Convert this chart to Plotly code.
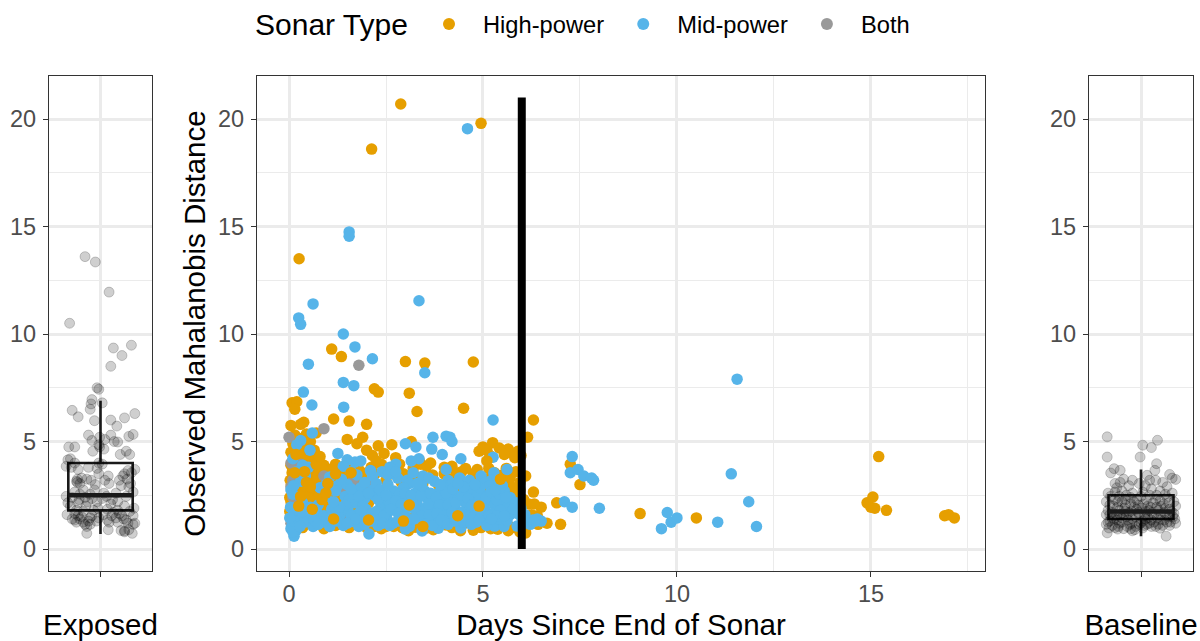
import plotly.graph_objects as go
from plotly.subplots import make_subplots

# (days since end of sonar, observed distance)
high_power = [
    (2.88, 20.7), (4.95, 19.8), (2.13, 18.6), (0.26, 13.5), (1.1, 9.3), (1.35, 8.95), (3.0, 8.72), (3.5, 8.65),
    (4.75, 8.7), (2.2, 7.45), (2.3, 7.3), (3.1, 7.25), (3.3, 6.4), (4.5, 6.55), (1.55, 5.95), (1.15, 6.05),
    (2.0, 5.8), (0.08, 6.8), (0.2, 6.85), (0.15, 6.5), (0.3, 5.8), (0.38, 5.9), (0.05, 5.75), (6.3, 6.0),
    (6.15, 5.2), (6.3, 2.65), (6.5, 1.95), (7.25, 3.95), (6.9, 2.15), (7.0, 1.15), (6.65, 1.2), (6.4, 1.55),
    (7.5, 3.0), (9.05, 1.65), (10.5, 1.45), (14.9, 2.15), (15.05, 2.42), (15.1, 1.9), (15.0, 1.95), (15.4, 1.8),
    (15.2, 4.3), (16.9, 1.55), (17.0, 1.6), (17.15, 1.45), (1.75, 4.9), (1.9, 5.2), (1.5, 5.1), (0.7, 5.4),
    (0.45, 5.35), (0.15, 5.3), (0.25, 5.15), (0.55, 5.0), (0.1, 4.9), (0.35, 4.85), (0.2, 4.65), (0.05, 4.5),
    (0.3, 4.45), (0.15, 4.25), (0.42, 4.15), (0.6, 4.2), (0.75, 4.05), (0.05, 3.9), (0.25, 3.95), (0.5, 3.85),
    (0.9, 3.9), (1.2, 3.95), (0.1, 3.7), (0.35, 3.65), (0.62, 3.6), (0.85, 3.55), (1.05, 3.7), (1.35, 3.75),
    (1.58, 3.8), (0.2, 3.4), (0.5, 3.35), (0.72, 3.3), (1.1, 3.4), (1.4, 3.45), (0.03, 3.2), (0.3, 3.15),
    (0.6, 3.05), (0.95, 3.1), (1.25, 3.15), (1.55, 3.2), (1.8, 3.1), (2.0, 4.6), (2.15, 4.35), (2.25, 4.1),
    (2.45, 4.45), (2.3, 4.8), (2.65, 4.85), (2.38, 3.95), (2.85, 3.95), (3.15, 5.0), (3.35, 4.15), (3.4, 3.95),
    (3.55, 3.85), (3.65, 4.0), (3.2, 3.75), (2.75, 4.25), (4.0, 3.8), (4.2, 3.85), (4.45, 3.6), (4.75, 3.5),
    (4.9, 4.55), (5.0, 4.75), (5.1, 4.6), (5.25, 4.95), (5.42, 4.7), (5.65, 4.65), (5.68, 4.5), (5.9, 4.55),
    (5.15, 3.75), (5.5, 3.45), (5.7, 3.3), (5.0, 3.25), (4.6, 3.1), (4.2, 3.25), (3.85, 3.0), (3.45, 3.05),
    (2.9, 3.1), (2.5, 3.2), (2.2, 2.9), (1.95, 2.75), (1.6, 2.65), (1.3, 2.55), (1.0, 2.7), (0.7, 2.6),
    (0.4, 2.75), (0.1, 2.65), (0.02, 2.4), (0.3, 2.3), (0.65, 2.2), (0.92, 2.1), (1.2, 2.2), (1.5, 2.05),
    (1.78, 1.9), (2.05, 2.15), (2.4, 2.3), (2.7, 2.5), (3.0, 2.2), (3.3, 2.45), (3.65, 2.3), (4.05, 2.45),
    (4.4, 2.6), (4.8, 2.55), (5.15, 2.8), (5.5, 2.65), (5.8, 2.45), (6.05, 2.3), (5.95, 3.1), (6.1, 3.4),
    (5.85, 1.85), (5.6, 1.55), (5.3, 1.5), (4.95, 1.3), (4.6, 1.55), (4.25, 1.25), (3.9, 1.45), (3.55, 1.2),
    (3.2, 1.45), (2.85, 1.15), (2.55, 1.3), (2.2, 1.05), (1.9, 1.2), (1.55, 1.0), (1.2, 1.1), (0.9, 0.95),
    (0.6, 1.2), (0.35, 1.0), (0.12, 1.35), (0.02, 1.75), (0.25, 1.7), (0.55, 1.65), (0.8, 1.5), (1.1, 1.65),
    (1.45, 1.5), (1.8, 1.35), (2.1, 1.6), (2.5, 1.05), (2.92, 1.0), (3.25, 1.02), (3.55, 0.98), (4.05, 1.12),
    (4.5, 1.18), (4.75, 0.88), (5.5, 1.12), (5.75, 1.0), (5.95, 0.8), (6.18, 2.1), (6.05, 1.05), (6.42, 1.15),
    (0.12, 4.05), (0.28, 4.2), (0.4, 4.55), (0.5, 4.4), (0.65, 4.6), (0.08, 3.55), (0.18, 3.15), (0.33, 3.45),
    (0.47, 3.1), (0.58, 3.75), (0.7, 3.5), (0.8, 3.2), (0.88, 3.7), (0.98, 3.45), (1.08, 3.15), (1.15, 3.6),
    (1.22, 3.3), (1.3, 2.9), (1.4, 3.15), (1.48, 3.55), (1.6, 3.0), (1.7, 3.4), (1.82, 3.65), (1.92, 3.3),
    (2.02, 3.55), (2.12, 3.8), (2.22, 3.5), (0.06, 3.0), (0.15, 2.75), (0.24, 2.95), (0.35, 2.6), (0.45, 2.85),
    (0.55, 2.5), (0.65, 2.85), (0.75, 2.4), (0.85, 2.75), (1.0, 2.35), (1.12, 2.6), (1.25, 2.4), (1.38, 2.7),
    (0.05, 2.2), (0.14, 2.4), (0.22, 2.15), (0.42, 2.05), (0.52, 2.3), (0.72, 1.95), (0.82, 2.15), (1.05, 1.95),
    (1.18, 1.85), (1.32, 2.1), (1.58, 1.75), (0.08, 1.55), (0.16, 1.85), (0.32, 1.85), (0.44, 1.6), (0.62, 1.55),
    (0.92, 1.75), (1.02, 1.25), (1.35, 1.2), (1.7, 1.15), (2.0, 1.0), (2.38, 0.95), (2.7, 1.05), (3.08, 0.85),
    (3.4, 0.95), (3.72, 0.9), (4.2, 1.0), (4.42, 0.85), (4.95, 1.0), (5.2, 0.95), (5.38, 0.92), (5.65, 0.85),
    (2.6, 3.6), (2.95, 3.5), (3.3, 3.35), (3.7, 3.45), (4.0, 3.5), (4.3, 3.55), (4.55, 3.75), (4.85, 3.7),
    (5.3, 3.55), (5.6, 3.75), (5.85, 3.6), (5.95, 2.75), (5.72, 2.9), (5.48, 3.1), (5.2, 3.35), (4.9, 3.05),
    (6.02, 1.55), (6.1, 0.75), (6.25, 1.6), (6.32, 2.1), (5.98, 4.35), (5.82, 4.25), (5.55, 4.4), (5.18, 4.35),
]

both_types = [
    (1.8, 8.55), (0.9, 5.6), (0.0, 5.2), (0.05, 4.0), (0.1, 3.2), (0.9, 3.4), (0.1, 2.4), (0.05, 1.2),
    (1.0, 1.3), (1.75, 2.85), (2.0, 3.0), (0.15, 1.75), (0.22, 1.8), (0.3, 3.95), (1.55, 1.35), (0.05, 2.9),
    (1.25, 2.75), (1.4, 2.9), (1.65, 3.15),
]

mid_power = [
    (4.6, 19.55), (1.55, 14.75), (1.55, 14.55), (0.25, 10.75), (0.3, 10.45), (0.62, 11.4), (3.35, 11.55), (1.4, 10.0),
    (1.7, 9.4), (2.15, 8.85), (0.5, 8.6), (3.5, 8.2), (1.4, 7.75), (1.67, 7.6), (0.37, 7.3), (0.59, 6.7),
    (1.41, 6.6), (5.26, 6.0), (11.55, 7.9), (11.4, 3.5), (11.85, 2.2), (12.05, 1.05), (11.05, 1.25), (9.6, 0.95),
    (9.75, 1.7), (9.85, 1.25), (10.0, 1.45), (8.0, 1.9), (7.3, 4.3), (7.25, 3.55), (7.45, 3.7), (7.6, 3.4),
    (7.8, 3.3), (7.85, 3.2), (7.1, 2.2), (7.3, 1.95), (6.29, 1.35), (6.15, 1.3), (6.05, 1.2), (6.4, 1.4),
    (6.5, 1.3), (3.71, 5.2), (4.05, 5.25), (4.15, 5.2), (4.2, 5.0), (3.0, 4.9), (3.27, 4.75), (3.68, 4.65),
    (0.54, 4.6), (1.26, 4.45), (0.1, 4.2), (3.35, 4.2), (4.43, 4.2), (5.26, 4.27), (5.62, 3.7), (5.28, 3.55),
    (0.6, 5.4), (0.3, 5.05), (0.2, 4.85), (0.35, 3.9), (0.5, 3.8), (1.5, 4.15), (1.7, 4.05), (1.85, 4.1),
    (2.75, 3.95), (2.6, 3.8), (2.4, 3.6), (2.15, 3.4), (2.55, 3.45), (2.8, 3.3), (3.05, 3.2), (3.1, 3.05),
    (3.45, 3.4), (3.6, 3.3), (3.75, 3.15), (4.1, 3.2), (4.2, 3.05), (4.4, 3.3), (4.65, 3.2), (4.95, 3.4),
    (5.05, 3.1), (5.22, 3.2), (5.4, 3.0), (5.18, 2.95), (1.05, 3.35), (1.25, 2.95), (1.5, 3.0), (1.85, 2.85),
    (2.15, 2.75), (2.4, 2.55), (2.7, 2.7), (2.95, 2.85), (3.25, 2.6), (3.5, 2.7), (3.85, 2.6), (4.0, 2.85),
    (4.25, 2.5), (4.55, 2.55), (4.75, 2.75), (5.0, 2.5), (5.3, 2.45), (5.55, 2.7), (5.7, 2.4), (5.85, 2.15),
    (0.05, 2.75), (0.1, 2.55), (0.35, 2.15), (0.55, 1.95), (0.75, 2.05), (0.95, 2.45), (1.2, 2.7), (1.45, 2.45),
    (1.7, 2.15), (1.95, 2.35), (2.2, 2.5), (2.45, 2.15), (2.65, 2.35), (2.85, 2.55), (3.05, 2.35), (3.3, 2.2),
    (3.55, 2.4), (3.75, 2.15), (3.95, 2.35), (4.15, 2.2), (4.35, 2.35), (4.55, 2.15), (4.8, 2.3), (4.98, 2.1),
    (5.12, 2.25), (5.3, 2.05), (5.5, 2.2), (5.65, 1.95), (5.9, 1.65), (0.04, 1.95), (0.12, 1.65), (0.28, 1.55),
    (0.5, 1.45), (0.72, 1.7), (0.9, 1.55), (1.1, 1.85), (1.32, 1.6), (1.52, 1.8), (1.75, 1.6), (1.98, 1.85),
    (2.15, 1.65), (2.35, 1.9), (2.55, 1.7), (2.75, 1.95), (2.95, 1.75), (3.15, 1.95), (3.35, 1.7), (3.5, 1.9),
    (3.7, 1.7), (3.9, 1.9), (4.08, 1.75), (4.28, 1.95), (4.45, 1.7), (4.68, 1.9), (4.88, 1.7), (5.05, 1.85),
    (5.25, 1.65), (5.45, 1.8), (5.7, 1.6), (0.13, 0.6), (0.18, 0.85), (0.08, 1.1), (0.4, 1.25), (0.62, 1.05),
    (0.85, 1.25), (1.05, 1.05), (1.25, 1.3), (1.4, 1.1), (1.62, 1.28), (1.8, 1.05), (2.06, 0.7), (2.12, 1.3),
    (2.3, 1.1), (2.52, 1.4), (2.68, 1.2), (2.88, 1.42), (3.0, 0.93), (3.12, 1.25), (3.32, 1.45), (3.43, 0.84),
    (3.6, 1.3), (3.85, 0.97), (3.78, 1.48), (3.98, 1.25), (4.18, 1.5), (4.43, 0.98), (4.38, 1.3), (4.62, 1.45),
    (4.82, 1.25), (5.0, 1.48), (5.15, 1.3), (5.3, 1.07), (5.54, 1.05), (5.4, 1.4), (5.88, 1.07), (5.62, 1.32),
    (0.3, 3.15), (0.95, 3.0), (1.35, 3.25), (1.75, 3.45), (2.25, 3.05), (0.8, 2.85), (0.05, 0.95), (0.22, 1.3),
    (1.55, 2.3), (1.65, 2.55), (1.8, 2.45), (1.9, 2.0), (2.05, 2.6), (2.3, 2.3), (2.35, 2.75), (2.5, 2.5),
    (2.6, 2.05), (2.75, 2.25), (2.9, 2.1), (3.0, 2.6), (3.15, 2.5), (3.2, 2.05), (3.4, 2.5), (3.42, 2.95),
    (3.6, 2.1), (3.65, 2.6), (3.8, 2.4), (3.88, 2.05), (4.05, 2.6), (4.1, 2.05), (4.22, 2.8), (4.3, 2.15),
    (4.45, 2.5), (4.5, 2.9), (4.62, 2.35), (4.72, 2.05), (4.88, 2.55), (4.92, 2.85), (5.08, 2.4), (5.2, 2.65),
    (5.35, 2.3), (5.42, 2.55), (5.6, 2.4), (5.78, 1.85), (1.6, 1.55), (1.85, 1.75), (2.0, 1.45), (2.25, 1.75),
    (2.45, 1.55), (2.62, 1.85), (2.82, 1.65), (3.0, 1.55), (3.25, 1.85), (3.42, 1.55), (3.62, 1.6), (3.82, 1.65),
    (4.0, 1.55), (4.2, 1.7), (4.35, 1.55), (4.55, 1.6), (4.78, 1.55), (4.95, 1.6), (5.15, 1.55), (5.35, 1.55),
    (5.55, 1.55), (1.95, 1.15), (2.2, 1.4), (2.42, 1.2), (2.6, 1.1), (2.8, 1.3), (3.1, 1.05), (3.22, 1.4),
    (3.52, 1.15), (3.7, 1.1), (3.92, 1.35), (4.1, 1.15), (4.28, 1.3), (4.5, 1.25), (4.7, 1.15), (4.9, 1.35),
    (5.1, 1.1), (5.22, 1.4), (1.6, 2.8), (1.95, 3.1), (2.55, 3.0), (3.3, 3.05), (3.9, 3.0), (4.35, 3.05),
    (4.8, 3.0), (5.32, 2.75), (5.5, 2.95), (1.45, 2.05), (1.3, 1.95), (1.15, 2.2), (0.65, 1.35), (0.35, 1.75),
    (0.15, 1.25), (0.02, 1.45), (0.1, 0.8), (0.28, 1.05), (0.75, 1.15), (1.15, 1.35), (1.5, 1.2), (1.72, 1.4),
    (6.0, 1.45), (6.22, 1.15), (6.35, 1.3), (5.98, 1.9), (6.08, 1.6), (2.1, 3.65), (2.75, 3.6), (3.2, 3.55),
    (1.4, 3.85), (1.6, 3.6), (0.2, 3.6), (0.12, 2.95), (0.42, 3.4), (3.95, 4.4), (4.05, 3.7), (3.15, 4.1),
]

# a few high-power points that were plotted above the mid-power ones
high_power_top = [
    (0.15, 3.55), (0.45, 3.1), (0.7, 3.95), (0.25, 2.0), (0.85, 2.3), (1.15, 1.4), (1.6, 3.55), (2.05, 1.35),
    (2.95, 1.3), (3.45, 1.05), (3.1, 2.05), (4.35, 1.55), (4.9, 2.0), (5.45, 3.25), (5.1, 4.1), (0.55, 2.9),
    (0.3, 2.45), (0.6, 1.85), (1.0, 3.05), (0.4, 3.6), (0.8, 4.3), (0.18, 4.4), (0.95, 2.6), (1.2, 3.5),
]

# (jitter position, distance)
exposed_points = [
    (-0.18, 13.6), (-0.06, 13.35), (0.1, 11.95), (-0.36, 10.5), (0.15, 9.35), (0.36, 9.48), (0.25, 9.0), (0.12, 8.5),
    (-0.04, 7.5), (-0.02, 7.43), (-0.1, 6.95), (-0.11, 6.75), (0.02, 6.8), (-0.12, 6.5), (-0.33, 6.45), (-0.26, 6.15),
    (0.4, 6.3), (0.28, 6.1), (0.12, 6.0), (-0.07, 5.97), (0.19, 5.72), (-0.14, 5.3), (0.38, 5.33), (0.33, 5.24),
    (0.12, 5.3), (-0.01, 5.2), (-0.1, 5.05), (0.05, 5.1), (0.16, 5.0), (0.2, 4.98), (-0.02, 4.85), (-0.01, 4.75),
    (-0.37, 4.75), (-0.3, 4.75), (0.04, 4.65), (-0.09, 4.55), (0.3, 4.55), (0.34, 4.4), (0.23, 4.4), (-0.38, 4.15),
    (-0.35, 4.2), (-0.3, 4.0), (-0.02, 4.0), (0.02, 3.95), (-0.4, 3.85), (-0.34, 3.8), (-0.14, 3.8), (-0.04, 3.75),
    (-0.26, 3.7), (0.4, 3.7), (0.32, 3.65), (0.36, 3.55), (0.28, 3.5), (-0.02, 3.5), (0.09, 3.4), (-0.27, 3.25),
    (-0.16, 3.25), (-0.11, 3.2), (0.05, 3.2), (0.22, 3.2), (0.31, 3.25), (-0.27, 3.1), (0.1, 3.05), (0.35, 3.05),
    (-0.06, 3.0), (0.24, 2.95), (0.33, 2.9), (-0.2, 2.75), (-0.07, 2.75), (0.38, 2.65), (-0.3, 2.65), (0.04, 2.6),
    (-0.4, 2.45), (-0.33, 2.4), (0.3, 2.45), (-0.18, 2.4), (-0.1, 2.35), (0.14, 2.3), (-0.38, 2.15), (-0.26, 2.15),
    (-0.04, 2.2), (0.2, 2.2), (-0.35, 2.0), (-0.17, 2.0), (0.28, 2.0), (0.39, 1.9), (-0.03, 1.9), (0.08, 1.85),
    (-0.28, 1.8), (0.2, 1.8), (0.34, 1.75), (-0.39, 1.6), (-0.3, 1.65), (-0.26, 1.55), (-0.1, 1.55), (0.03, 1.6),
    (0.13, 1.55), (0.22, 1.65), (0.38, 1.55), (-0.33, 1.4), (-0.24, 1.4), (0.08, 1.35), (0.18, 1.45), (0.27, 1.4),
    (-0.28, 1.25), (-0.14, 1.3), (0.2, 1.25), (0.32, 1.2), (-0.18, 1.15), (-0.12, 1.15), (0.38, 1.15), (0.4, 1.2),
    (-0.16, 1.05), (0.09, 0.9), (0.33, 0.9), (0.28, 0.85), (0.28, 0.8), (0.37, 0.73), (-0.16, 0.73), (0.24, 0.86),
    (-0.22, 1.5), (-0.3, 1.35), (-0.12, 1.45), (-0.2, 1.75), (-0.08, 1.8), (-0.15, 2.2), (-0.25, 2.3), (-0.05, 1.3),
    (-0.2, 1.25), (-0.24, 3.05), (-0.22, 3.3), (-0.28, 3.15), (0.25, 1.55), (0.15, 1.7), (0.1, 1.25), (0.3, 1.35),
    (0.02, 2.35), (0.12, 2.1), (-0.12, 2.55), (-0.24, 2.55), (-0.02, 1.45), (0.07, 2.45), (0.18, 2.6), (0.26, 3.4),
]

baseline_points = [
    (-0.39, 5.22), (0.19, 5.06), (0.02, 4.83), (0.12, 4.72), (-0.39, 4.28), (-0.01, 4.28), (0.18, 3.97), (-0.31, 3.74),
    (-0.24, 3.66), (-0.35, 3.54), (0.16, 3.66), (0.33, 3.47), (0.4, 3.24), (0.07, 3.43), (0.36, 3.3), (0.1, 3.2),
    (-0.2, 3.25), (-0.1, 3.2), (-0.3, 3.05), (-0.24, 3.1), (0.17, 3.2), (0.25, 3.1), (-0.02, 3.05), (-0.14, 2.95),
    (0.05, 2.95), (0.3, 2.9), (-0.28, 2.85), (0.12, 2.8), (-0.38, 2.6), (-0.3, 2.65), (-0.22, 2.7), (0.02, 2.65),
    (0.22, 2.7), (0.36, 2.6), (-0.1, 2.6), (-0.35, 2.45), (-0.17, 2.5), (0.1, 2.5), (0.3, 2.4), (-0.4, 2.2),
    (-0.3, 2.3), (-0.22, 2.2), (-0.05, 2.3), (0.17, 2.3), (0.38, 2.2), (-0.36, 2.05), (-0.12, 2.1), (0.03, 2.1),
    (0.26, 2.1), (0.4, 2.0), (-0.27, 1.95), (-0.19, 1.9), (0.11, 1.95), (0.33, 1.85), (-0.38, 1.8), (-0.05, 1.85),
    (0.2, 1.8), (-0.33, 1.7), (-0.14, 1.7), (0.06, 1.75), (0.27, 1.7), (0.38, 1.65), (-0.4, 1.6), (-0.24, 1.6),
    (-0.02, 1.6), (0.15, 1.6), (-0.34, 1.45), (-0.17, 1.5), (0.08, 1.45), (0.32, 1.5), (0.39, 1.4), (-0.28, 1.35),
    (-0.1, 1.4), (0.22, 1.35), (-0.38, 1.25), (-0.22, 1.25), (0.02, 1.3), (0.15, 1.25), (0.34, 1.25), (-0.4, 1.15),
    (-0.33, 1.1), (-0.13, 1.15), (0.07, 1.15), (0.25, 1.1), (0.4, 1.2), (-0.26, 1.05), (-0.06, 1.05), (0.12, 1.05),
    (0.33, 1.1), (-0.37, 0.98), (-0.2, 0.95), (-0.07, 0.9), (0.02, 0.98), (0.22, 0.97), (-0.27, 0.93), (-0.39, 0.75),
    (0.29, 0.6), (-0.1, 0.85),
    (-0.32, 2.0), (-0.25, 1.8), (-0.18, 1.75), (-0.08, 1.95), (0.01, 1.9), (0.09, 1.8), (0.18, 1.95), (0.28, 1.9),
    (0.35, 1.75), (-0.36, 1.6), (-0.28, 1.55), (-0.2, 1.6), (-0.11, 1.75), (-0.03, 1.7), (0.04, 1.55), (0.13, 1.7),
    (0.23, 1.6), (0.3, 1.55), (0.37, 1.5), (-0.31, 1.4), (-0.22, 1.45), (-0.15, 1.35), (-0.06, 1.5), (0.05, 1.4),
    (0.12, 1.35), (0.19, 1.45), (0.27, 1.35), (-0.36, 1.3), (-0.25, 1.2), (-0.1, 1.2), (-0.02, 1.15), (0.1, 1.2),
    (0.2, 1.15), (0.3, 1.25), (-0.3, 1.0), (-0.16, 1.05), (0.04, 1.1), (0.17, 1.05), (-0.12, 0.95), (0.0, 1.22),
    (-0.27, 2.2), (-0.18, 2.3), (-0.08, 2.2), (0.06, 2.3), (0.14, 2.15), (0.22, 2.25), (0.32, 2.15), (-0.12, 2.4),
    (-0.25, 2.45), (0.0, 2.45), (0.18, 2.5), (0.28, 2.55), (-0.18, 2.05), (-0.03, 2.05), (0.08, 2.0), (0.23, 2.0),
]

# box summaries: q1, median, q3, lower whisker, upper whisker
exposed_box = [1.8, 2.5, 4.0, 0.7, 6.9]
baseline_box = [1.4, 1.75, 2.5, 0.6, 3.7]

cutoff_days = [6, 6]
cutoff_dist = [0, 21]

y_ticks = [0, 5, 10, 15, 20]
x_ticks = [0, 5, 10, 15]

ORANGE = "#E69F00"
BLUE = "#56B4E9"
GREY = "#999999"
FONT = "Liberation Sans"


def unzip(points):
    return [p[0] for p in points], [p[1] for p in points]


def dots(points, color, name, legend=True):
    xs, ys = unzip(points)
    return go.Scatter(x=xs, y=ys, mode="markers", name=name, showlegend=legend,
                      marker=dict(color=color, size=11.5, line_width=0))


def side_panel(fig, col, points, box):
    xs, ys = unzip(points)
    fig.add_trace(go.Scatter(x=xs, y=ys, mode="markers", showlegend=False,
                             marker=dict(color="rgba(0,0,0,0.19)", size=10,
                                         line=dict(color="rgba(0,0,0,0.19)", width=1))), row=1, col=col)
    fig.add_trace(go.Box(x=[0], q1=[box[0]], median=[box[1]], q3=[box[2]], lowerfence=[box[3]], upperfence=[box[4]],
                         width=0.75, whiskerwidth=0, boxpoints=False, showlegend=False,
                         fillcolor="rgba(0,0,0,0)", line=dict(color="#1a1a1a", width=2.6)), row=1, col=col)
    # ggplot draws the median thicker than the box
    fig.add_trace(go.Scatter(x=[-0.375, 0.375], y=[box[1], box[1]], mode="lines", showlegend=False,
                             line=dict(color="#1a1a1a", width=4.5)), row=1, col=col)


fig = make_subplots(rows=1, cols=3)

side_panel(fig, 1, exposed_points, exposed_box)

fig.add_trace(dots(high_power, ORANGE, "High-power"), row=1, col=2)
fig.add_trace(dots(both_types, GREY, "Both", legend=False), row=1, col=2)
fig.add_trace(dots(mid_power, BLUE, "Mid-power"), row=1, col=2)
fig.add_trace(dots(high_power_top, ORANGE, "High-power", legend=False), row=1, col=2)
# legend-only entry so the order reads High, Mid, Both
fig.add_trace(go.Scatter(x=[None], y=[None], mode="markers", name="Both",
                         marker=dict(color=GREY, size=11.5)), row=1, col=2)
fig.add_trace(go.Scatter(x=cutoff_days, y=cutoff_dist, mode="lines", showlegend=False,
                         line=dict(color="black", width=8)), row=1, col=2)

side_panel(fig, 3, baseline_points, baseline_box)

axis_style = dict(showline=True, mirror=True, linecolor="#333333", linewidth=1.3, zeroline=False, automargin=False,
                  ticks="outside", ticklen=5, tickwidth=1.4, tickcolor="#333333",
                  gridcolor="#EBEBEB", gridwidth=2.5,
                  tickfont=dict(family=FONT, size=23.5, color="#4D4D4D"))

W, H = 1200, 641
panels = {1: (49, 152), 2: (257, 985), 3: (1089, 1193)}
for col, (left, right) in panels.items():
    fig.update_xaxes(axis_style, domain=[left / W, right / W], ticklabelstandoff=-3, row=1, col=col)
    fig.update_yaxes(axis_style, domain=[1 - 571 / H, 1 - 76 / H], range=[-1.02, 22.0], tickvals=y_ticks,
                     ticklabelstandoff=2,
                     minor=dict(tickvals=[2.5, 7.5, 12.5, 17.5], showgrid=True, gridcolor="#EBEBEB", gridwidth=1.2, ticks=""),
                     row=1, col=col)

title_font = dict(family=FONT, size=29.5, color="black")
for col, label in [(1, "Exposed"), (3, "Baseline")]:
    fig.update_xaxes(range=[-0.6, 0.6], tickvals=[0], ticktext=[" "],
                     title=dict(text=label, font=title_font, standoff=27), row=1, col=col)
fig.update_xaxes(range=[-0.825, 17.94], tickvals=x_ticks,
                 minor=dict(tickvals=[2.5, 7.5, 12.5, 17.5], showgrid=True, gridcolor="#EBEBEB", gridwidth=1.2, ticks=""),
                 title=dict(text="Days Since End of Sonar", font=title_font, standoff=19), row=1, col=2)
fig.update_yaxes(title=dict(text="Observed Mahalanobis Distance", font=title_font, standoff=3), row=1, col=2)

fig.update_layout(
    width=W, height=H, margin=dict(l=0, r=0, t=0, b=0), plot_bgcolor="white", paper_bgcolor="white",
    font=dict(family=FONT, color="black"),
    legend=dict(orientation="h", x=415 / W, y=1 - 24 / H, xanchor="left", yanchor="middle",
                itemwidth=58, itemsizing="constant", traceorder="normal",
                font=dict(family=FONT, size=23.7)),
    annotations=[dict(text="Sonar Type", x=253 / W, y=1 - 24 / H, xref="paper", yref="paper",
                      xanchor="left", yanchor="middle", showarrow=False, font=dict(family=FONT, size=30))],
)

fig.write_html("out.html", post_script="document.body.style.margin='0';", config=dict(displayModeBar=False))
